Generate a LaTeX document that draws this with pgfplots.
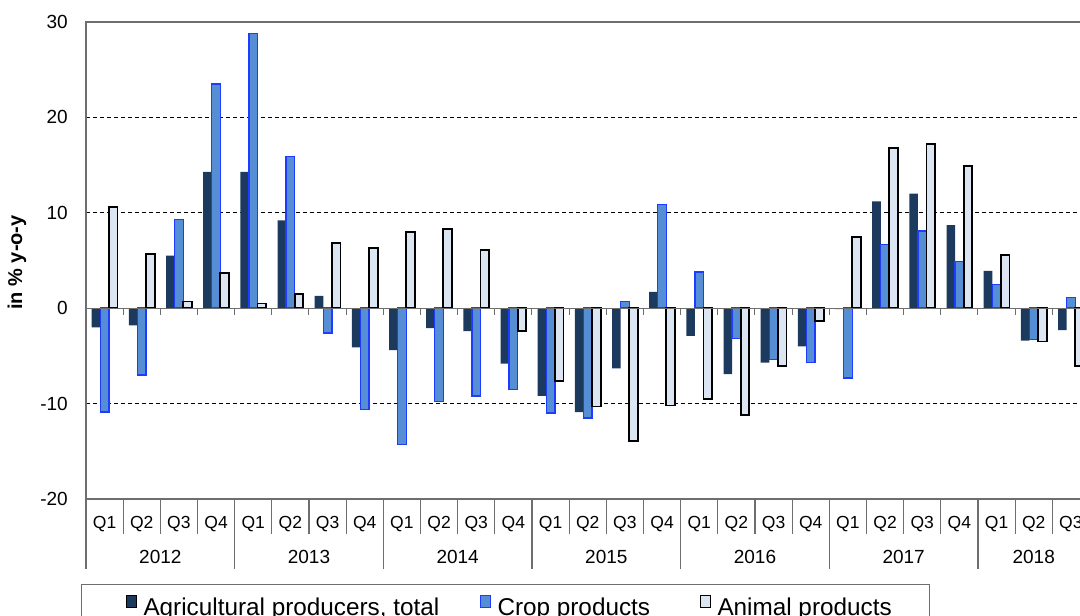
\documentclass[border=0pt]{standalone}
\usepackage{pgfplots}
\pgfplotsset{compat=1.18}
\usepackage{pgfplotstable}
\usepackage{fontspec}
\setmainfont{Liberation Sans}
\definecolor{totc}{HTML}{1C3A5E}
\definecolor{cropf}{HTML}{558ED5}
\definecolor{crope}{HTML}{1E3CFF}
\definecolor{animf}{HTML}{DCE6F2}
\definecolor{axgray}{HTML}{6E6E6E}

\pgfplotstableread{
x T C A
1 -2.0 -10.9 10.6
2 -1.8 -7.0 5.7
3 5.5 9.3 0.7
4 14.3 23.5 3.7
5 14.3 28.8 0.5
6 9.2 15.9 1.5
7 1.3 -2.6 6.8
8 -4.1 -10.6 6.3
9 -4.4 -14.3 8.0
10 -2.1 -9.8 8.3
11 -2.4 -9.2 6.1
12 -5.8 -8.5 -2.4
13 -9.2 -11.0 -7.6
14 -10.9 -11.5 -10.3
15 -6.3 0.7 -13.9
16 1.7 10.9 -10.2
17 -2.9 3.8 -9.5
18 -6.9 -3.2 -11.2
19 -5.7 -5.4 -6.1
20 -4.0 -5.7 -1.3
21 -0.1 -7.3 7.5
22 11.2 6.7 16.8
23 12.0 8.1 17.2
24 8.7 4.9 14.9
25 3.9 2.5 5.6
26 -3.4 -3.3 -3.5
27 -2.3 1.1 -6.1
}\datatab

\begin{document}
\begin{tikzpicture}
\begin{axis}[
  at={(86pt,117pt)}, anchor=south west,
  scale only axis, width=1003.5pt, height=477pt,
  xmin=0.5, xmax=27.5, ymin=-20, ymax=30,
  enlargelimits=false,
  clip=false,
  axis on top=false,
  ybar=0pt, bar width=8.6pt,
  xtick={1,...,27},
  xticklabels={Q1,Q2,Q3,Q4,Q1,Q2,Q3,Q4,Q1,Q2,Q3,Q4,Q1,Q2,Q3,Q4,Q1,Q2,Q3,Q4,Q1,Q2,Q3,Q4,Q1,Q2,Q3},
  ytick={-20,-10,0,10,20,30},
  major tick length=0pt,
  ymajorgrids,
  grid style={black, line width=0.8pt, dash pattern=on 4pt off 3pt},
  axis line style={axgray, line width=1.2pt},
  x tick label style={font=\fontsize{17.5}{20}\selectfont, anchor=base, yshift=-29.3pt, inner sep=0pt},
  y tick label style={font=\fontsize{19}{22}\selectfont, anchor=east, inner sep=0pt, xshift=-18pt},
  /pgf/number format/assume math mode=true,
  legend columns=3,
  legend image code/.code={\draw[#1, line width=1pt] (0pt,0pt) rectangle (10pt,12pt);},
  legend style={at={(axis description cs:-0.00498,-0.1782)}, anchor=north west,
    draw=axgray, line width=1pt, inner xsep=44pt, inner ysep=10pt,
    font=\fontsize{24.3}{27}\selectfont, nodes={inner sep=0pt},
    /tikz/column 1/.style={column sep=7pt},
    /tikz/column 2/.style={column sep=41pt},
    /tikz/column 3/.style={column sep=7pt},
    /tikz/column 4/.style={column sep=48pt},
    /tikz/column 5/.style={column sep=7pt}},
]
\addplot[fill=totc, draw=none] table[x=x, y=T] {\datatab};
\addlegendentry{\makebox[295pt][l]{Agricultural producers, total}}
\addplot[fill=cropf, draw=crope, line width=1.4pt] table[x=x, y=C] {\datatab};
\addlegendentry{\makebox[154pt][l]{Crop products}}
\addplot[fill=animf, draw=black, line width=1.8pt] table[x=x, y=A] {\datatab};
\addlegendentry{\makebox[168pt][l]{Animal products}}

% zero line and category ticks on it
\draw[axgray, line width=1.2pt] (axis cs:0.5,0) -- (axis cs:27.5,0);
\pgfplotsinvokeforeach{1.5,2.5,...,27.5}{
  \draw[axgray, line width=1pt] (axis cs:#1,0) -- ++(0pt,-7pt);
}
% label table below the axis
\pgfplotsinvokeforeach{1.5,2.5,3.5,5.5,6.5,7.5,9.5,10.5,11.5,13.5,14.5,15.5,17.5,18.5,19.5,21.5,22.5,23.5,25.5,26.5,27.5}{
  \draw[axgray, line width=1.1pt] (axis cs:#1,-20) -- ++(0pt,-35pt);
}
\pgfplotsinvokeforeach{0.5,4.5,8.5,12.5,16.5,20.5,24.5}{
  \draw[axgray, line width=1.1pt] (axis cs:#1,-20) -- ++(0pt,-70pt);
}
\node[anchor=base, font=\fontsize{19}{22}\selectfont, inner sep=0pt] at ([yshift=-64.3pt]axis cs:2.5,-20) {2012};
\node[anchor=base, font=\fontsize{19}{22}\selectfont, inner sep=0pt] at ([yshift=-64.3pt]axis cs:6.5,-20) {2013};
\node[anchor=base, font=\fontsize{19}{22}\selectfont, inner sep=0pt] at ([yshift=-64.3pt]axis cs:10.5,-20) {2014};
\node[anchor=base, font=\fontsize{19}{22}\selectfont, inner sep=0pt] at ([yshift=-64.3pt]axis cs:14.5,-20) {2015};
\node[anchor=base, font=\fontsize{19}{22}\selectfont, inner sep=0pt] at ([yshift=-64.3pt]axis cs:18.5,-20) {2016};
\node[anchor=base, font=\fontsize{19}{22}\selectfont, inner sep=0pt] at ([yshift=-64.3pt]axis cs:22.5,-20) {2017};
\node[anchor=base, font=\fontsize{19}{22}\selectfont, inner sep=0pt] at ([yshift=-64.3pt]axis cs:26,-20) {2018};
\end{axis}
\node[rotate=90, anchor=base, font=\bfseries\fontsize{20}{24}\selectfont, inner sep=0pt] at (22pt,353.5pt) {in \% y-o-y};
\pgfresetboundingbox
\path[use as bounding box] (0pt,0pt) rectangle (1080pt,616pt);
\end{tikzpicture}
\end{document}
